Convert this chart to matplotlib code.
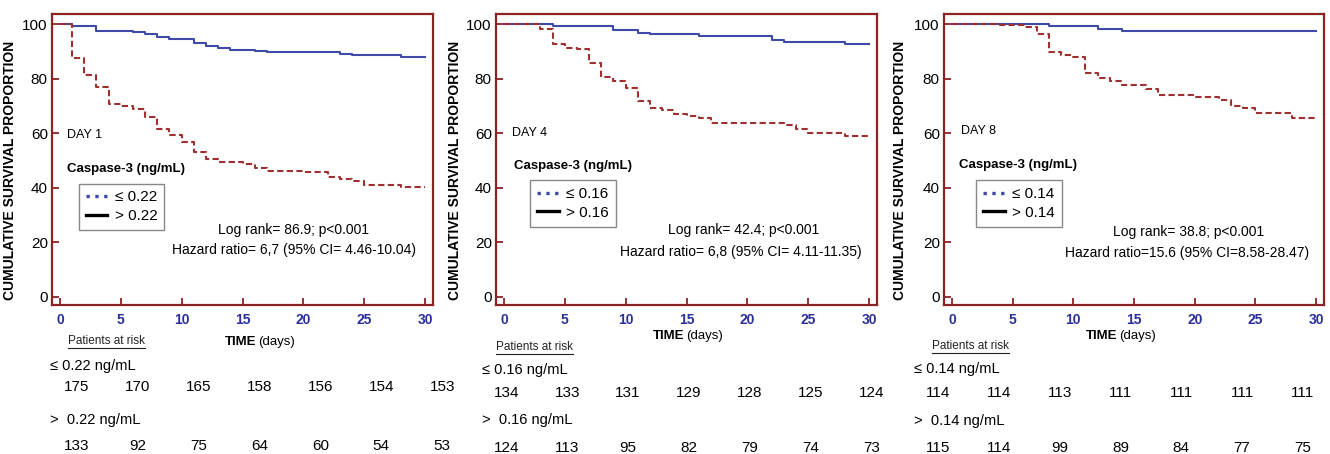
import matplotlib.pyplot as plt
from matplotlib.lines import Line2D
from matplotlib import transforms

# ---- data ----
days_ticks = [0, 5, 10, 15, 20, 25, 30]

# DAY 1
d1_low_t = [0, 1, 3, 6, 7, 8, 9, 11, 12, 13, 14, 16, 17, 23, 24, 28, 30]
d1_low_s = [100, 99.4, 97.6, 97.0, 96.3, 95.4, 94.7, 92.9, 91.8, 91.2, 90.6, 90.1, 89.6, 89.2, 88.6, 87.9, 87.9]
d1_high_t = [0, 1, 2, 3, 4, 5, 6, 7, 8, 9, 10, 11, 12, 13, 14, 15, 16, 17, 20, 22, 23, 24, 25, 28, 30]
d1_high_s = [100, 87.5, 81.5, 77.0, 70.6, 69.8, 69.0, 65.8, 61.5, 59.3, 56.8, 53.2, 50.7, 49.6, 49.3, 48.7,
             47.1, 46.2, 45.6, 44.1, 43.2, 42.6, 41.0, 40.1, 40.1]

# DAY 4
d4_low_t = [0, 4, 9, 11, 12, 16, 22, 23, 28, 30]
d4_low_s = [100, 99.4, 97.8, 96.9, 96.3, 95.7, 94.1, 93.3, 92.7, 92.7]
d4_high_t = [0, 3, 4, 5, 6, 7, 8, 9, 10, 11, 12, 13, 14, 15, 16, 17, 23, 24, 25, 28, 30]
d4_high_s = [100, 98.2, 92.7, 91.4, 90.8, 85.9, 80.7, 79.2, 76.5, 71.9, 69.4, 68.5, 67.0, 66.4, 65.5,
             63.6, 63.1, 61.5, 59.9, 59.0, 59.0]

# DAY 8
d8_low_t = [0, 8, 12, 14, 30]
d8_low_s = [100, 99.2, 98.3, 97.4, 97.4]
d8_high_t = [0, 4, 6, 7, 8, 9, 10, 11, 12, 13, 14, 16, 17, 20, 22, 23, 24, 25, 28, 30]
d8_high_s = [100, 99.6, 98.8, 96.2, 89.9, 88.7, 87.8, 82.2, 80.4, 79.2, 77.7, 76.1, 74.1, 73.4, 72.0,
             70.0, 69.2, 67.4, 65.5, 65.5]

d1_risk_low = [175, 170, 165, 158, 156, 154, 153]
d1_risk_high = [133, 92, 75, 64, 60, 54, 53]
d4_risk_low = [134, 133, 131, 129, 128, 125, 124]
d4_risk_high = [124, 113, 95, 82, 79, 74, 73]
d8_risk_low = [114, 114, 113, 111, 111, 111, 111]
d8_risk_high = [115, 114, 99, 89, 84, 77, 75]

panels = [
    dict(day='DAY 1', cut='0.22', low=(d1_low_t, d1_low_s), high=(d1_high_t, d1_high_s),
         risk=(d1_risk_low, d1_risk_high),
         logrank='Log rank= 86.9; p<0.001', hr='Hazard ratio= 6,7 (95% CI= 4.46-10.04)'),
    dict(day='DAY 4', cut='0.16', low=(d4_low_t, d4_low_s), high=(d4_high_t, d4_high_s),
         risk=(d4_risk_low, d4_risk_high),
         logrank='Log rank= 42.4; p<0.001', hr='Hazard ratio= 6,8 (95% CI= 4.11-11.35)'),
    dict(day='DAY 8', cut='0.14', low=(d8_low_t, d8_low_s), high=(d8_high_t, d8_high_s),
         risk=(d8_risk_low, d8_risk_high),
         logrank='Log rank= 38.8; p<0.001', hr='Hazard ratio=15.6 (95% CI=8.58-28.47)'),
]

# ---- layout / style ----
plt.rcParams['font.family'] = ['Liberation Sans', 'DejaVu Sans']

FRAME = '#8b2323'
BLUE = '#3f4aa8'
RED = '#a03030'
TICKBLUE = '#2b2f9a'

lefts = [52, 496, 944]
widths = [381, 381, 380]
ylab_x = [-0.092, -0.089, -0.097]
# layout-specific offsets (in days / px) for the text blocks below each panel
num_off = [1.4, 0.2, -1.1]
par_x = [3.8, 2.5, 1.5]
lab_x = [-0.8, -1.8, -3.1]
rows_px = [(341, 366, 387, 420, 446), (347, 370, 393, 420, 448), (346, 369, 393, 421, 448)]
time_y = [342, 336, 336]
time_split = [16.1, 14.8, 13.6]
leg_anchor = [(0.05, 0.232), (0.07, 0.243), (0.065, 0.243)]
day_pos = [(0.55, 59.5), (0.7, 60.1), (0.75, 60.9)]
casp_pos = [(0.55, 46.8), (0.8, 47.8), (0.55, 48.5)]
lr_x = [(19.2, 19.2), (19.7, 19.5), (19.5, 19.4)]
lr_y = [(24.6, 17.3), (24.4, 16.6), (23.9, 16.0)]

W, H = 1330, 454
fig = plt.figure(figsize=(W / 100, H / 100), dpi=100)

for i, p in enumerate(panels):
    ax = fig.add_axes([lefts[i] / W, 1 - 305 / H, widths[i] / W, 291 / H])
    ax.step(p['low'][0], p['low'][1], where='post', color=BLUE, lw=1.5)
    ax.step(p['high'][0], p['high'][1], where='post', color=RED, lw=1.5, ls=(0, (3, 1.6)))
    ax.set_xlim(-0.65, 30.65)
    ax.set_ylim(-3, 103.7)
    ax.set_xticks(days_ticks)
    ax.set_yticks([0, 20, 40, 60, 80, 100])
    for s in ax.spines.values():
        s.set_color(FRAME)
        s.set_linewidth(1.6)
    ax.tick_params(direction='in', color=FRAME, length=5, width=1.3)
    ax.tick_params(axis='x', labelcolor=TICKBLUE, labelsize=10, pad=6)
    ax.tick_params(axis='y', labelsize=11, pad=3)
    for t in ax.get_xticklabels():
        t.set_fontweight('bold')
    ax.set_ylabel('CUMULATIVE SURVIVAL PROPORTION', fontsize=10, fontweight='bold')
    ax.yaxis.set_label_coords(ylab_x[i], 0.464)

    ax.text(day_pos[i][0], day_pos[i][1], p['day'], fontsize=9, va='center')
    ax.text(casp_pos[i][0], casp_pos[i][1], 'Caspase-3 (ng/mL)', fontsize=9.5,
            fontweight='bold', va='center')
    handles = [Line2D([], [], color=BLUE, ls=':', lw=2.4),
               Line2D([], [], color='black', ls='-', lw=2.4)]
    leg = ax.legend(handles, ['≤ ' + p['cut'], '> ' + p['cut']], loc='lower left',
                    bbox_to_anchor=leg_anchor[i], fontsize=11, fancybox=False,
                    edgecolor='#888888', framealpha=1, handlelength=1.4,
                    handletextpad=0.5, borderpad=0.45, labelspacing=0.3)
    leg.get_frame().set_linewidth(1.0)
    ax.text(lr_x[i][0], lr_y[i][0], p['logrank'], fontsize=10, ha='center', va='center')
    ax.text(lr_x[i][1], lr_y[i][1], p['hr'], fontsize=10, ha='center', va='center')

    # risk table under the panel
    tr = transforms.blended_transform_factory(ax.transData, fig.transFigure)
    r = rows_px[i]
    pr = ax.text(par_x[i], 1 - r[0] / H, 'Patients at risk', transform=tr, fontsize=8.5,
                 ha='center', va='center', color='#222222')
    ax.text(time_split[i], 1 - time_y[i] / H, 'TIME', transform=tr, fontsize=9.5,
            fontweight='bold', ha='right', va='center')
    ax.text(time_split[i] + 0.2, 1 - time_y[i] / H, '(days)', transform=tr, fontsize=9.5,
            ha='left', va='center')
    ax.text(lab_x[i], 1 - r[1] / H, '≤ ' + p['cut'] + ' ng/mL', transform=tr,
            fontsize=10.5, ha='left', va='center')
    ax.text(lab_x[i], 1 - r[3] / H, '>  ' + p['cut'] + ' ng/mL', transform=tr,
            fontsize=10.5, ha='left', va='center')
    for t, n_low, n_high in zip(days_ticks, p['risk'][0], p['risk'][1]):
        ax.text(t + num_off[i], 1 - r[2] / H, str(n_low), transform=tr, fontsize=11,
                ha='center', va='center')
        ax.text(t + num_off[i], 1 - r[4] / H, str(n_high), transform=tr, fontsize=11,
                ha='center', va='center')

    # underline "Patients at risk"
    fig.canvas.draw()
    bb = pr.get_window_extent().transformed(fig.transFigure.inverted())
    fig.add_artist(Line2D([bb.x0, bb.x1], [bb.y0 - 0.002, bb.y0 - 0.002],
                          transform=fig.transFigure, color='#222222', lw=0.8))

fig.savefig('out.png', dpi=100)
